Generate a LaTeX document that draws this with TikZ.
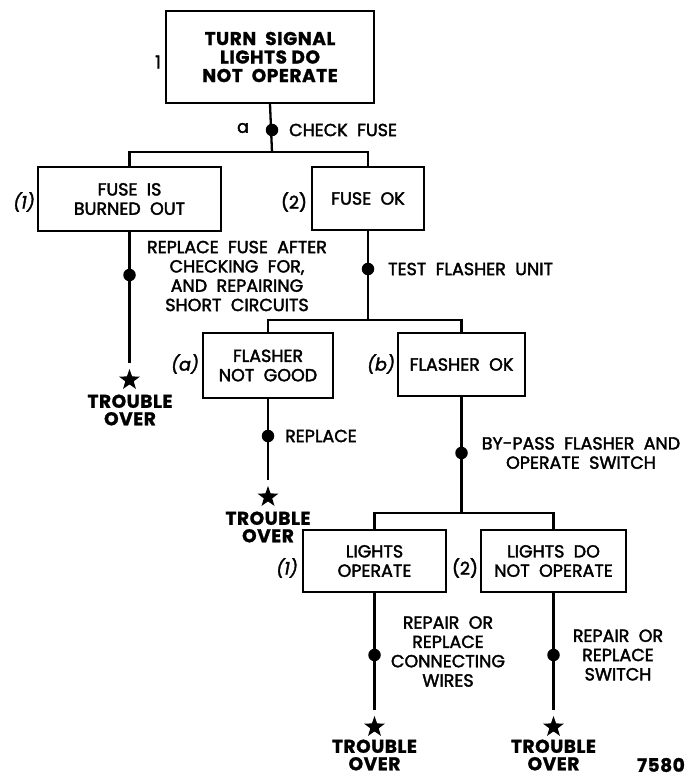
\documentclass[tikz,border=0pt]{standalone}
\usepackage{fontspec}
\setmainfont{Poppins}[BoldFeatures={FakeBold=1.2}]
\newfontfamily\medf{Poppins}[FakeBold=2.1]
\usetikzlibrary{shapes.geometric}
\newcommand{\fsz}{\medf\fontsize{17.5}{19.3}\selectfont}
\newcommand{\bsz}{\fontsize{18.5}{18.5}\selectfont\bfseries\addfontfeatures{LetterSpace=3}}
\newcommand{\esz}{\fontsize{18.5}{17.5}\selectfont\bfseries\addfontfeatures{LetterSpace=3}}
\begin{document}
\begin{tikzpicture}[x=1pt,y=-1pt,line width=2.3pt,
  box/.style={draw,line width=2.3pt,align=center,inner sep=0pt,font=\fsz},
  txt/.style={align=center,inner sep=0pt,font=\fsz},
  lbl/.style={inner sep=0pt,font=\fsz},
  ilbl/.style={inner sep=0pt,font=\fsz\itshape},
  dotn/.style={circle,fill,inner sep=0pt,minimum size=12.5pt},
  starn/.style={star,star points=5,star point ratio=2.5,fill,inner sep=0pt,minimum size=22pt},
  endtxt/.style={align=center,inner sep=0pt,font=\esz}]
\useasboundingbox (0,0) rectangle (689,778);
% top box
\node[box,minimum width=208pt,minimum height=92pt,font=\bsz] (top) at (270,57) {TURN\ \ SIGNAL\\LIGHTS DO\\NOT\ \ OPERATE};
\node[lbl] (l1) at (158,62) {1};
% level 1
\node[box,minimum width=183pt,minimum height=64pt] (f1) at (129.5,199) {FUSE\ \ IS\\BURNED\ \ OUT};
\node[ilbl] (lf1) at (24,202) {(1)};
\node[box,minimum width=112pt,minimum height=63pt] (f2) at (368,198.5) {FUSE\ \ OK};
\node[lbl] (lf2) at (294,202) {(2)};
\coordinate (bar1) at (272,152);
\draw (top.south) -- (bar1);
\draw (bar1) -| (f1.north);
\draw (bar1) -| (f2.north);
\node[dotn] (da) at (272,130) {};
\node[lbl] (la) at (243,128) {a};
\node[lbl,anchor=west] (tcheck) at (288,130) {CHECK\ \ FUSE};
% fuse burned out branch
\node[starn] (s1) at (129.5,380) {};
\draw[shorten >=3pt] (f1.south) -- (s1.north);
\node[dotn] (d1) at (129.5,275) {};
\node[txt] (t1) at (237,276) {REPLACE\ \ FUSE\ \ AFTER\\CHECKING\ \ FOR,\\AND\ \ REPAIRING\\SHORT\ \ CIRCUITS};
\node[endtxt] (e1) at (130,410) {TROUBLE\\OVER};
% fuse ok branch
\node[box,minimum width=130pt,minimum height=65pt] (fa) at (268,365.5) {FLASHER\\NOT\ \ GOOD};
\node[ilbl] (lfa) at (185,364) {(a)};
\node[box,minimum width=127pt,minimum height=63pt] (fb) at (461.5,364.5) {FLASHER\ \ OK};
\node[ilbl] (lfb) at (381,364) {(b)};
\coordinate (bar2) at (368,320);
\draw (f2.south) -- (bar2);
\draw (bar2) -| (fa.north);
\draw (bar2) -| (fb.north);
\node[dotn] (d2) at (368,269) {};
\node[lbl,anchor=west] (ttest) at (387,269) {TEST\ \ FLASHER\ \ UNIT};
% flasher not good
\node[starn] (s2) at (268,497) {};
\draw[shorten >=3pt] (fa.south) -- (s2.north);
\node[dotn] (d3) at (268,436) {};
\node[lbl,anchor=west] (trep) at (284,436) {REPLACE};
\node[endtxt] (e2) at (268,527) {TROUBLE\\OVER};
% flasher ok
\node[box,minimum width=143pt,minimum height=62pt] (la1) at (374.5,561) {LIGHTS\\OPERATE};
\node[ilbl] (ll1) at (287,568) {(1)};
\node[box,minimum width=145pt,minimum height=62pt] (la2) at (553.5,561) {LIGHTS\ \ DO\\NOT\ \ OPERATE};
\node[lbl] (ll2) at (465,568) {(2)};
\coordinate (bar3) at (461.5,513);
\draw (fb.south) -- (bar3);
\draw (bar3) -| (la1.north);
\draw (bar3) -| (la2.north);
\node[dotn] (d4) at (461.5,453) {};
\node[txt] (tby) at (581,453) {BY-PASS\ \ FLASHER\ \ AND\\OPERATE\ \ SWITCH};
% lights operate
\node[starn] (s3) at (374.5,727) {};
\draw[shorten >=3pt] (la1.south) -- (s3.north);
\node[dotn] (d5) at (374.5,655) {};
\node[txt] (t5) at (448,651.5) {REPAIR\ \ OR\\REPLACE\\CONNECTING\\WIRES};
\node[endtxt] (e3) at (374.5,755) {TROUBLE\\OVER};
% lights do not operate
\node[starn] (s4) at (553.5,727) {};
\draw[shorten >=3pt] (la2.south) -- (s4.north);
\node[dotn] (d6) at (553.5,655) {};
\node[txt] (t6) at (618,655) {REPAIR\ \ OR\\REPLACE\\SWITCH};
\node[endtxt] (e4) at (553.5,755) {TROUBLE\\OVER};
\node[inner sep=0pt,anchor=west,font=\bsz] (num) at (636,765) {7580};
\end{tikzpicture}
\end{document}
